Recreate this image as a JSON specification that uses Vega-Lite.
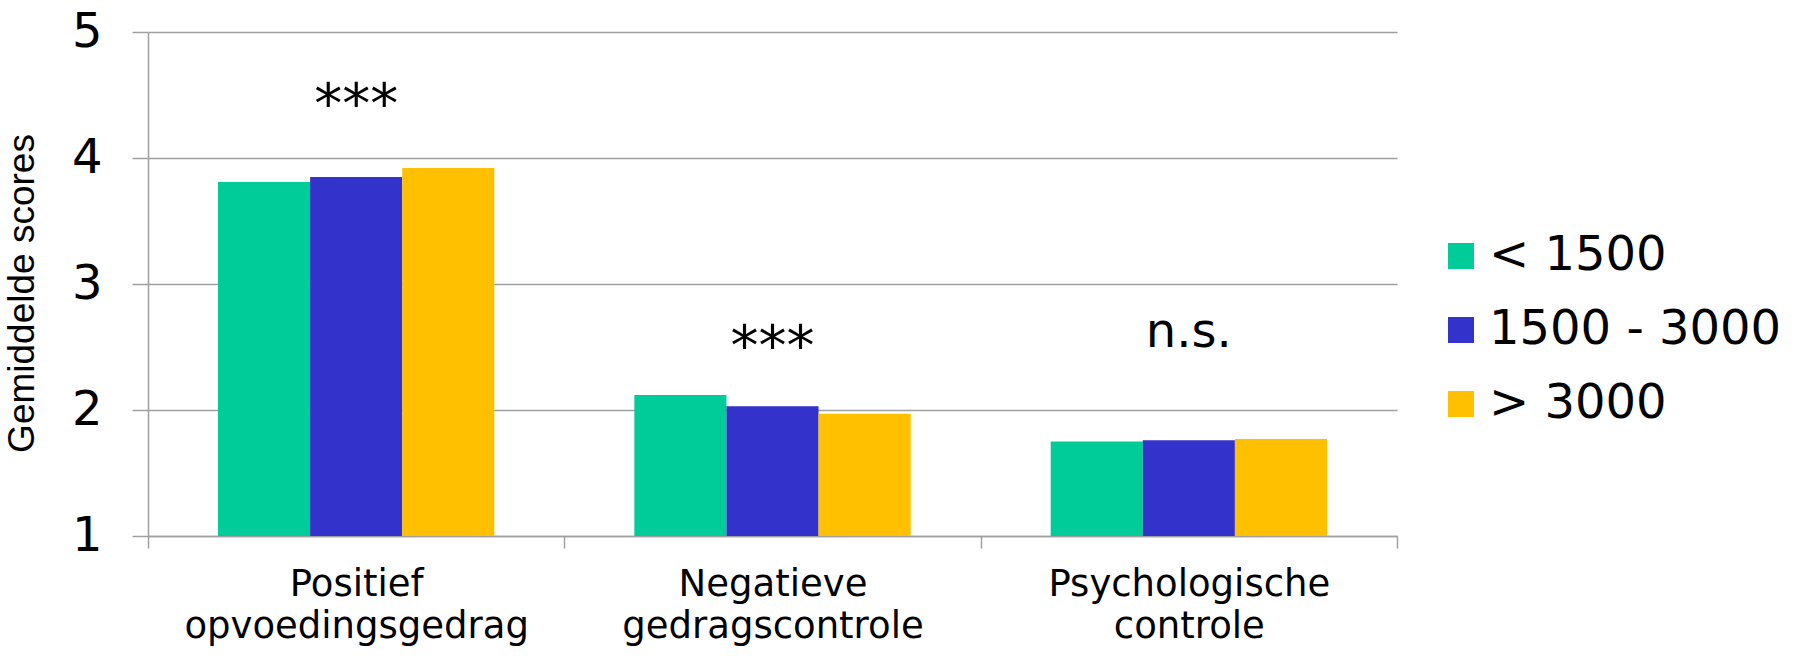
{
  "$schema": "https://vega.github.io/schema/vega-lite/v6.json",
  "autosize": {"type": "none"},
  "padding": {"left": 148, "top": 32, "right": 400, "bottom": 120},
  "width": 1249,
  "height": 504,
  "background": "white",
  "datasets": {
    "bars": [
      {"cat": "Positief opvoedingsgedrag", "group": "< 1500", "score": 3.81},
      {"cat": "Positief opvoedingsgedrag", "group": "1500 - 3000", "score": 3.85},
      {"cat": "Positief opvoedingsgedrag", "group": "> 3000", "score": 3.92},
      {"cat": "Negatieve gedragscontrole", "group": "< 1500", "score": 2.12},
      {"cat": "Negatieve gedragscontrole", "group": "1500 - 3000", "score": 2.03},
      {"cat": "Negatieve gedragscontrole", "group": "> 3000", "score": 1.97},
      {"cat": "Psychologische controle", "group": "< 1500", "score": 1.75},
      {"cat": "Psychologische controle", "group": "1500 - 3000", "score": 1.76},
      {"cat": "Psychologische controle", "group": "> 3000", "score": 1.77}
    ],
    "notes": [
      {"cat": "Positief opvoedingsgedrag", "label": "***", "y": 4.28},
      {"cat": "Negatieve gedragscontrole", "label": "***", "y": 2.36},
      {"cat": "Psychologische controle", "label": "n.s.", "y": 2.5}
    ]
  },
  "config": {
    "view": {"stroke": null},
    "axis": {"labelColor": "black", "titleColor": "black"}
  },
  "layer": [
    {
      "data": {"name": "bars"},
      "mark": {"type": "bar", "stroke": null},
      "encoding": {
        "x": {
          "field": "cat", "type": "nominal", "sort": null,
          "scale": {"paddingInner": 0, "paddingOuter": 0},
          "axis": {
            "title": null, "labelAngle": 0, "tickBand": "extent",
            "labelExpr": "split(datum.label, ' ')", "labelLimit": 0,
            "labelFont": "DejaVu Sans", "labelFontSize": 37, "labelLineHeight": 42,
            "labelPadding": 18, "tickSize": 12, "tickColor": "#a0a0a0", "tickWidth": 1.5,
            "domainColor": "#a0a0a0", "domainWidth": 1.5, "labelBaseline": "top"
          }
        },
        "xOffset": {
          "field": "group", "type": "nominal",
          "sort": ["< 1500", "1500 - 3000", "> 3000"],
          "scale": {"paddingInner": 0, "paddingOuter": 0.76}
        },
        "y": {
          "field": "score", "type": "quantitative",
          "scale": {"domain": [1, 5], "zero": false, "nice": false},
          "axis": {
            "title": "Gemiddelde scores", "values": [1, 2, 3, 4, 5], "format": "d",
            "titleFont": "Liberation Sans", "titleFontSize": 37, "titleFontWeight": "normal",
            "titlePadding": 30, "titleY": 261,
            "labelFont": "DejaVu Sans", "labelFontSize": 48, "labelPadding": 30,
            "tickSize": 16, "tickColor": "#a0a0a0", "tickWidth": 1.5,
            "grid": true, "gridColor": "#a0a0a0", "gridWidth": 1.5,
            "domainColor": "#a0a0a0", "domainWidth": 1.5
          }
        },
        "y2": {"datum": 1},
        "color": {
          "field": "group", "type": "nominal",
          "scale": {
            "domain": ["< 1500", "1500 - 3000", "> 3000"],
            "range": ["#00CC99", "#3333CC", "#FFC000"]
          },
          "legend": {
            "title": null, "orient": "none", "legendX": 1289, "legendY": 200,
            "symbolType": "square", "symbolSize": 676, "symbolStrokeWidth": 0,
            "labelFont": "DejaVu Sans", "labelFontSize": 48, "labelColor": "black",
            "labelLimit": 0, "labelOffset": 4, "rowPadding": 26, "padding": 0
          }
        }
      }
    },
    {
      "data": {"name": "notes"},
      "mark": {"type": "text", "font": "DejaVu Sans", "baseline": "alphabetic", "align": "center", "color": "black"},
      "encoding": {
        "x": {"field": "cat", "type": "nominal", "sort": null},
        "y": {"field": "y", "type": "quantitative"},
        "text": {"field": "label"},
        "size": {"condition": {"test": "datum.label == 'n.s.'", "value": 48}, "value": 56}
      }
    }
  ]
}
